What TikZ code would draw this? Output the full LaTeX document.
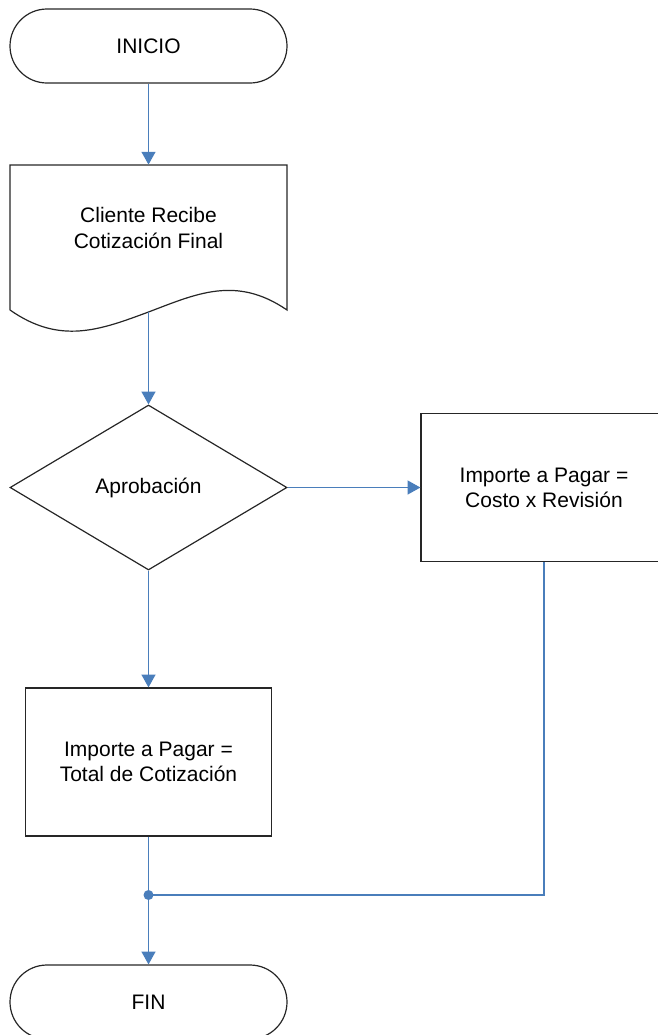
\documentclass[tikz,border=0pt]{standalone}
\usepackage{fontspec}
\setmainfont{Liberation Sans}
\usetikzlibrary{shapes.geometric,shapes.misc,arrows.meta}

\definecolor{flujo}{RGB}{74,126,187}

\begin{document}
\begin{tikzpicture}[x=0.5pt, y=-0.5pt,
        texto/.style={font=\fontsize{10.5}{12.6}\selectfont, align=center},
        terminal/.style={texto, rounded rectangle, draw=black!85, line width=0.6pt,
                minimum width=138.5pt, minimum height=37pt, inner sep=0pt},
        proceso/.style={texto, rectangle, draw=black!85, line width=0.6pt,
                minimum width=123pt, minimum height=74pt, inner sep=0pt},
        decision/.style={texto, diamond, draw=black!85, line width=0.6pt,
                minimum width=138.5pt, minimum height=82.5pt, inner sep=0pt},
        linea/.style={flujo, line width=0.55pt},
        flecha/.style={linea, -{Triangle[length=6.4pt, width=7pt]}}]

        \useasboundingbox (0,0) rectangle (658,1035);
        \clip (0,0) rectangle (658,1035);

        %-- Inicio --
        \node[terminal] (inicio) at (148.5,46) {INICIO};

        %-- Documento: caja con borde inferior ondulado --
        \node[rectangle, minimum width=138.5pt, minimum height=73.5pt, inner sep=0pt]
        (doc) at (148.5,238.5) {};
        \draw[black!85, line width=0.6pt]
        (10,310) -- (10,165) -- (287,165) -- (287,310)
        .. controls (236,275) and (196,294) .. (148.5,312)
        .. controls (100,330) and (60,345) .. (10,310);
        \node[texto] (docTexto) at (148.5,228) {Cliente Recibe\\Cotización Final};
        \coordinate (docSalida) at (148.5,312);

        %-- Decision y las dos ramas --
        \node[decision] (aprob) at (148.5,487.5) {Aprobación};
        \node[proceso] (revision) at (544,487.5) {Importe a Pagar =\\Costo x Revisión};
        \node[proceso] (total) at (148.5,762) {Importe a Pagar =\\Total de Cotización};

        %-- Fin --
        \node[terminal] (fin) at (148.5,1002) {FIN};

        %-- Union de las ramas --
        \coordinate (union) at (148.5,895);

        %-- Conectores --
        \draw[flecha] (inicio.south) -- (doc.north);
        \draw[flecha] (docSalida) -- (aprob.north);
        \draw[flecha] (aprob.east) -- (revision.west);
        \draw[flecha] (aprob.south) -- (total.north);
        \draw[linea] (total.south) -- (union);
        \draw[linea] (revision.south) |- (union);
        \draw[flecha] (union) -- (fin.north);
        \fill[flujo] (union) circle (2.5pt);

\end{tikzpicture}
\end{document}
